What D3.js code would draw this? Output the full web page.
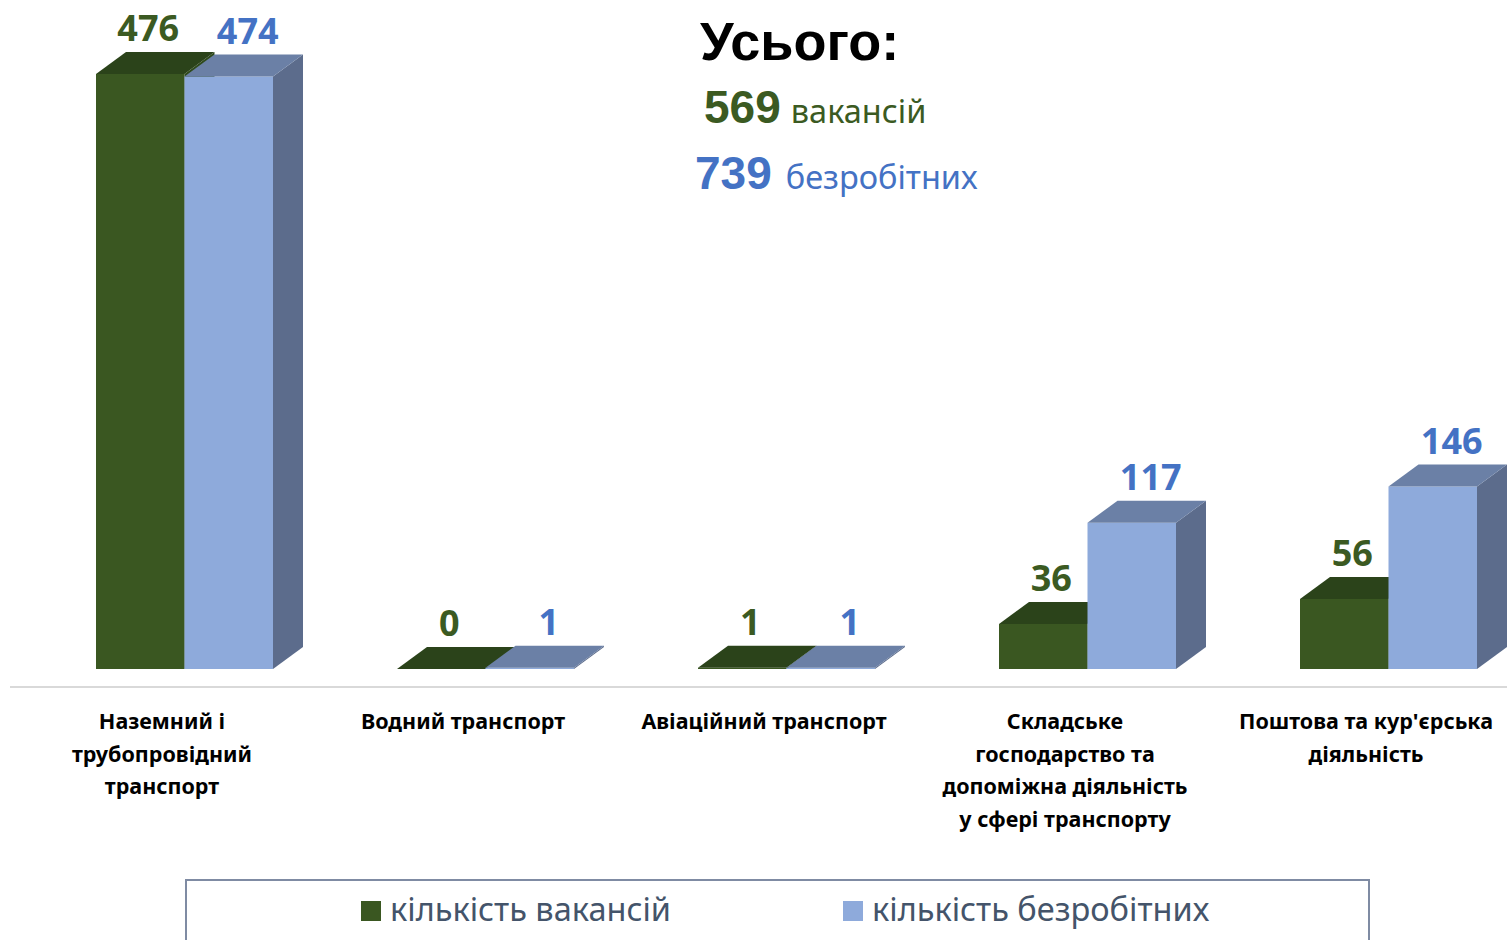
<!DOCTYPE html>
<html>
<head>
<meta charset="utf-8">
<script src="https://cdn.jsdelivr.net/npm/d3@7"></script>
<style>
  body { margin: 0; background: #fff; }
  svg { display: block; }
</style>
</head>
<body>
<div class="chart"></div>
<script>
// data
var categories = [
  ["Наземний і", "трубопровідний", "транспорт"],
  ["Водний транспорт"],
  ["Авіаційний транспорт"],
  ["Складське", "господарство та", "допоміжна діяльність", "у сфері транспорту"],
  ["Поштова та кур'єрська", "діяльність"]
];
var seriesNames = ["кількість вакансій", "кількість безробітних"];
var vacancies = [476, 0, 1, 36, 56];
var unemployed = [474, 1, 1, 117, 146];
var totals = [569, 739];
var totalWords = ["вакансій", "безробітних"];

var W = 1507, H = 940;
var dx = 30, dy = 22; // depth of the 3d bars

// colours: front, top, side
var palette = [
  {front: "#3a5721", top: "#2b431a", side: "#2f4a1c", text: "#3b5a22", shift: 8},
  {front: "#8eaadb", top: "#6b80a6", side: "#5c6c8c", text: "#4472c4", shift: 19}
];

function makeStage(w, h) {
	var stage = d3.select(".chart")
				  .append("svg")
				  .attr("width", w)
				  .attr("height", h);
	return stage;
}

var svg = makeStage(W, H);

var x = d3.scaleBand()
		  .domain(d3.range(categories.length))
		  .range([11.5, 11.5 + 301 * categories.length]);

var xs = d3.scaleBand()
		   .domain([0, 1])
		   .range([84.5, 84.5 + 177]);

var y = d3.scaleLinear()
		  .domain([0, 476])
		  .range([669, 74]);

// axis line
svg.append("line")
   .attr("x1", 10).attr("x2", W)
   .attr("y1", 687).attr("y2", 687)
   .style("stroke", "#d9d9d9")
   .style("stroke-width", 2);

var rows = [];
categories.forEach(function(c, i) {
	rows.push({cat: i, s: 0, v: vacancies[i]});
	rows.push({cat: i, s: 1, v: unemployed[i]});
});

var bars = svg.append("g").selectAll("g.bar")
			  .data(rows)
			  .join("g")
			  .attr("class", "bar");

bars.each(function(d) {
	var g = d3.select(this);
	var x0 = x(d.cat) + xs(d.s), w = xs.bandwidth();
	var yt = y(d.v), yb = y(0);
	var c = palette[d.s];
	g.append("rect")
	 .attr("x", x0).attr("y", yt)
	 .attr("width", w).attr("height", yb - yt)
	 .style("fill", c.front);
	g.append("path")
	 .attr("d", "M" + (x0 + w) + "," + yt + "L" + (x0 + w + dx) + "," + (yt - dy) +
		   "L" + (x0 + w + dx) + "," + (yb - dy) + "L" + (x0 + w) + "," + yb + "Z")
	 .style("fill", c.side);
	g.append("path")
	 .attr("d", "M" + x0 + "," + yt + "L" + (x0 + dx) + "," + (yt - dy) +
		   "L" + (x0 + w + dx) + "," + (yt - dy) + "L" + (x0 + w) + "," + yt + "Z")
	 .style("fill", c.top);
});

// value labels
svg.append("g").selectAll("text")
   .data(rows)
   .join("text")
   .attr("x", function(d) { return x(d.cat) + xs(d.s) + xs.bandwidth() / 2 + palette[d.s].shift; })
   .attr("y", function(d) { return y(d.v) - dy - 11; })
   .attr("text-anchor", "middle")
   .style("font-family", "'Noto Sans', sans-serif")
   .style("font-weight", "bold")
   .style("font-size", "36px")
   .style("fill", function(d) { return palette[d.s].text; })
   .text(function(d) { return d.v; });

// category labels
var catG = svg.append("g").selectAll("text")
			  .data(categories)
			  .join("text")
			  .attr("x", function(d, i) { return x(i) + x.bandwidth() / 2; })
			  .attr("y", 729)
			  .attr("text-anchor", "middle")
			  .style("font-family", "'Noto Sans', sans-serif")
			  .style("font-weight", "bold")
			  .style("font-size", "21.5px")
			  .style("fill", "#000");
catG.selectAll("tspan")
	.data(function(d) { return d; })
	.join("tspan")
	.attr("x", function() { return d3.select(this.parentNode).attr("x"); })
	.attr("dy", function(d, i) { return i === 0 ? 0 : 32.5; })
	.text(function(d) { return d; });

// totals block
svg.append("text")
   .attr("x", 700).attr("y", 60)
   .style("font-family", "'Liberation Sans', Arial, sans-serif")
   .style("font-weight", "bold")
   .style("font-size", "54px")
   .style("fill", "#000")
   .text("Усього:");

var totalY = [123, 189], totalX = [704, 695], totalGap = [10, 14];
totals.forEach(function(t, i) {
	var tx = svg.append("text")
				.attr("x", totalX[i]).attr("y", totalY[i])
				.style("fill", palette[i].text);
	tx.append("tspan")
	  .style("font-family", "'Liberation Sans', Arial, sans-serif")
	  .style("font-weight", "bold")
	  .style("font-size", "46px")
	  .text(t);
	tx.append("tspan")
	  .attr("dx", totalGap[i])
	  .style("font-family", "'Noto Sans', sans-serif")
	  .style("font-size", "32.5px")
	  .text(totalWords[i]);
});

// legend
svg.append("rect")
   .attr("x", 186).attr("y", 880)
   .attr("width", 1183).attr("height", 80)
   .style("fill", "none")
   .style("stroke", "#7f8ba3")
   .style("stroke-width", 2);

var legX = [361, 843];
var leg = svg.append("g").selectAll("g")
			 .data(seriesNames)
			 .join("g")
			 .attr("transform", function(d, i) { return "translate(" + legX[i] + ",901)"; });
leg.append("rect")
   .attr("width", 20).attr("height", 20)
   .style("fill", function(d, i) { return palette[i].front; });
leg.append("text")
   .attr("x", 29).attr("y", 20)
   .style("font-family", "'Noto Sans', sans-serif")
   .style("font-size", "32.5px")
   .style("fill", "#44546a")
   .text(function(d) { return d; });
</script>
</body>
</html>
